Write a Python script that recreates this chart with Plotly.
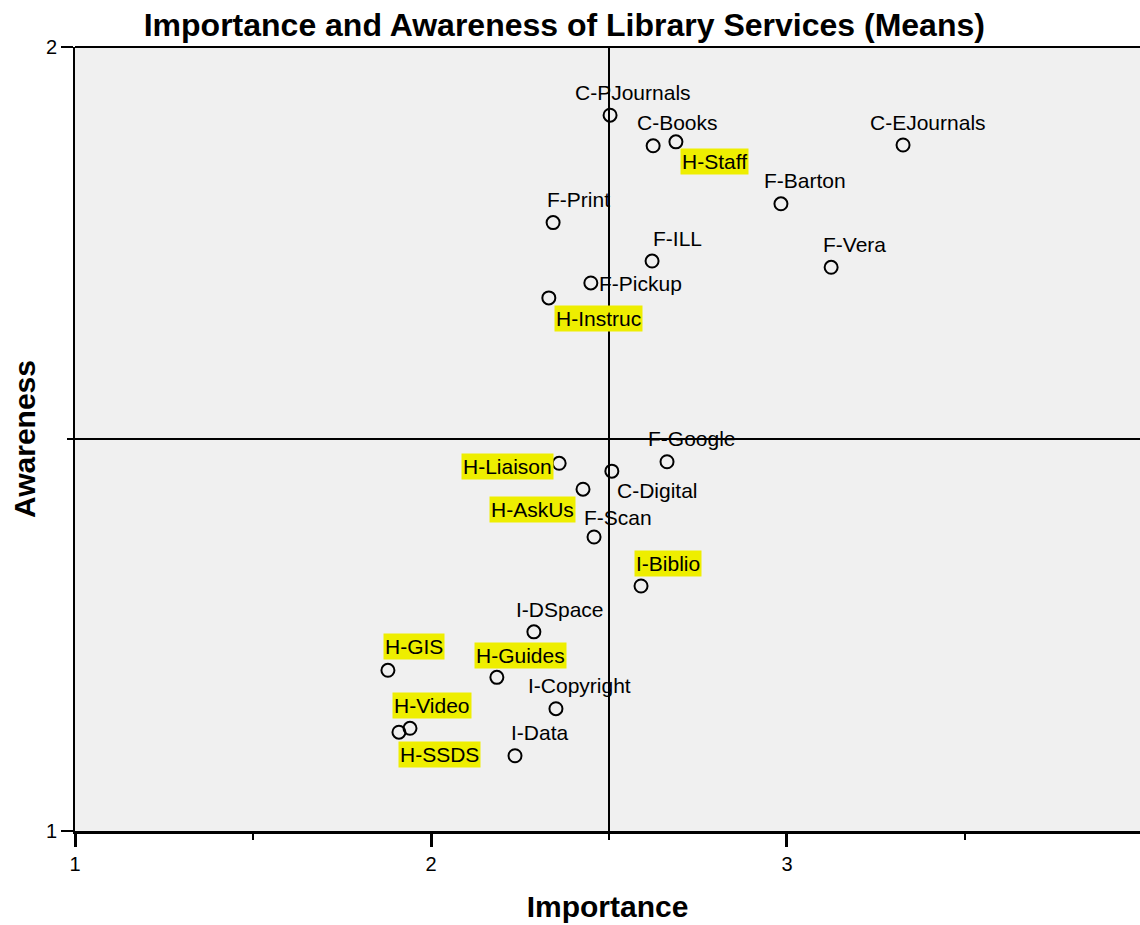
import plotly.graph_objects as go

# ---- data ----
labels = ["C-PJournals", "C-Books", "H-Staff", "C-EJournals", "F-Barton", "F-Print",
          "F-ILL", "F-Vera", "F-Pickup", "H-Instruc", "F-Google", "H-Liaison",
          "C-Digital", "H-AskUs", "F-Scan", "I-Biblio", "I-DSpace", "H-GIS",
          "H-Guides", "I-Copyright", "H-Video", "H-SSDS", "I-Data"]
importance = [2.503, 2.624, 2.688, 3.326, 2.983, 2.343,
              2.621, 3.124, 2.449, 2.331, 2.663, 2.360,
              2.508, 2.427, 2.458, 2.590, 2.289, 1.879,
              2.185, 2.351, 1.941, 1.910, 2.236]
awareness = [1.913, 1.874, 1.879, 1.875, 1.800, 1.776,
             1.727, 1.719, 1.699, 1.680, 1.471, 1.469,
             1.459, 1.436, 1.375, 1.3125, 1.254, 1.205,
             1.196, 1.156, 1.131, 1.126, 1.096]
highlighted = ["H-Staff", "H-Instruc", "H-Liaison", "H-AskUs", "I-Biblio",
               "H-GIS", "H-Guides", "H-Video", "H-SSDS"]
x_ticks = [1, 2, 3, 4]
y_ticks = [1, 2]
x_ref = 2.5
y_ref = 1.5

# ---- label pixel offsets (style) ----
offsets = {
    "C-PJournals": (23, -23), "C-Books": (24, -23), "H-Staff": (39, 20),
    "C-EJournals": (25, -23), "F-Barton": (24, -23), "F-Print": (25, -23),
    "F-ILL": (25, -23), "F-Vera": (23, -23), "F-Pickup": (50, 1),
    "H-Instruc": (50, 21), "F-Google": (25, -23), "H-Liaison": (-52, 3),
    "C-Digital": (46, 19), "H-AskUs": (-51, 20), "F-Scan": (24, -20),
    "I-Biblio": (27, -23), "I-DSpace": (26, -22), "H-GIS": (26, -24),
    "H-Guides": (24, -22), "I-Copyright": (24, -23), "H-Video": (22, -23),
    "H-SSDS": (41, 22), "I-Data": (25, -23),
}

FONT = "Liberation Sans, Arial, sans-serif"

fig = go.Figure()

fig.add_trace(go.Scatter(
    x=importance, y=awareness, mode="markers",
    marker=dict(symbol="circle-open", size=13, color="black", line=dict(width=2)),
    hoverinfo="text", text=labels, showlegend=False,
))

annotations = []
for lab, xv, yv in zip(labels, importance, awareness):
    dx, dy = offsets[lab]
    annotations.append(dict(
        x=xv, y=yv, xref="x", yref="y", text=lab, showarrow=False,
        xanchor="center", yanchor="middle", xshift=dx, yshift=-dy,
        font=dict(family=FONT, size=21, color="black"),
        bgcolor="#EEEE00" if lab in highlighted else None,
        borderpad=1,
    ))

fig.update_layout(
    width=1140, height=925,
    margin=dict(l=75, r=0, t=47, b=94),
    paper_bgcolor="white", plot_bgcolor="#F0F0F0",
    title=dict(text="<b>Importance and Awareness of Library Services (Means)</b>",
               x=0.495, xanchor="center", y=0.973, yanchor="middle",
               font=dict(family=FONT, size=32, color="black")),
    annotations=annotations,
    shapes=[
        dict(type="line", xref="x", yref="paper", x0=x_ref, x1=x_ref, y0=0, y1=1,
             line=dict(color="black", width=2), layer="below"),
        dict(type="line", xref="paper", yref="y", x0=-0.0066, x1=1, y0=y_ref, y1=y_ref,
             line=dict(color="black", width=2), layer="below"),
        dict(type="line", xref="paper", yref="paper", x0=0, x1=1, y0=1, y1=1,
             line=dict(color="black", width=2), layer="above"),
    ],
    xaxis=dict(
        range=[1, 3.9916], tickvals=x_ticks, ticktext=[str(v) for v in x_ticks],
        ticks="outside", ticklen=13, tickwidth=3, tickcolor="black",
        minor=dict(tickvals=[1.5, 2.5, 3.5], ticks="outside", ticklen=6, tickwidth=2, tickcolor="black"),
        showline=True, linecolor="black", linewidth=3, mirror=False,
        showgrid=False, zeroline=False,
        tickfont=dict(family=FONT, size=20, color="black"),
        title=dict(text="<b>Importance</b>", font=dict(family=FONT, size=30, color="black"), standoff=22),
    ),
    yaxis=dict(
        range=[1, 2], tickvals=y_ticks, ticktext=[str(v) for v in y_ticks],
        ticks="outside", ticklen=12, tickwidth=2, tickcolor="black",
        minor=dict(tickvals=[1.5], ticks="outside", ticklen=6, tickwidth=2, tickcolor="black"),
        showline=True, linecolor="black", linewidth=2, mirror=False,
        showgrid=False, zeroline=False,
        tickfont=dict(family=FONT, size=20, color="black"),
        title=dict(text="<b>Awareness</b>", font=dict(family=FONT, size=30, color="black"), standoff=1),
    ),
)

fig.write_html(
    "out.html",
    config={"displayModeBar": False},
    post_script=("document.body.style.margin='0';"
                 "document.documentElement.style.overflow='hidden';"
                 "document.body.style.overflow='hidden';"),
)
